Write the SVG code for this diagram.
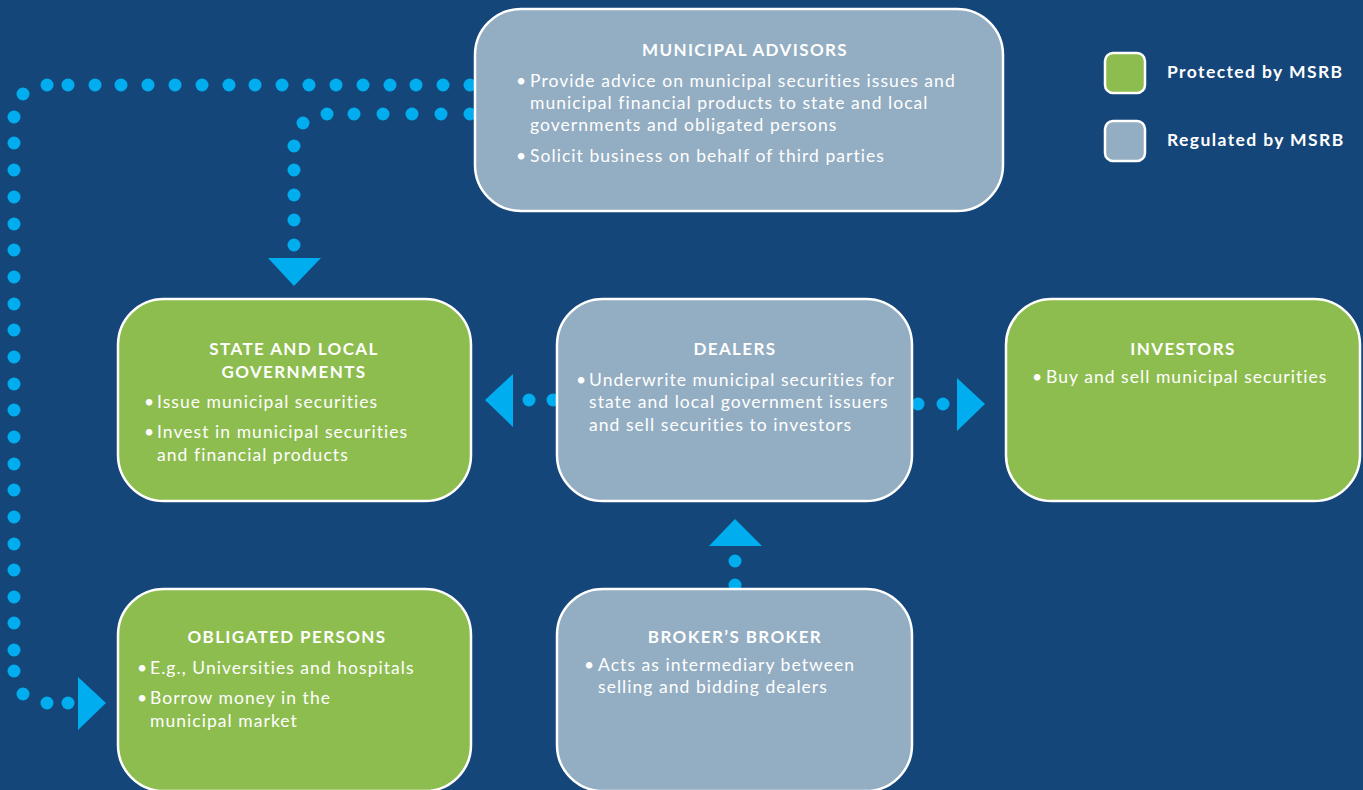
<svg xmlns="http://www.w3.org/2000/svg" width="1363" height="790" viewBox="0 0 1363 790">
  <style>
    .bg { fill: #15467a; }
    .box { stroke: #ffffff; stroke-width: 2.5; }
    .protected { fill: #8dbd4f; }
    .regulated { fill: #93adc2; }
    .title { font-family: Lato, "Open Sans", sans-serif; font-weight: 700; font-size: 17px; letter-spacing: 1.4px; fill: #ffffff; text-anchor: middle; font-variant-ligatures: none; }
    .body { font-family: Lato, "Open Sans", sans-serif; font-size: 17.5px; letter-spacing: 1.05px; fill: #ffffff; font-variant-ligatures: none; }
    .legend { font-family: Lato, "Open Sans", sans-serif; font-weight: 700; font-size: 17.5px; letter-spacing: 1.4px; fill: #ffffff; font-variant-ligatures: none; }
    .dot { fill: #00aeef; }
    .head { fill: #00aeef; }
  </style>

  <rect class="bg" x="0" y="0" width="1363" height="790"/>

  <!-- dotted connectors (drawn first so the boxes sit on top) -->
  <g id="connectors">
    <!-- advisors to obligated persons: long loop round the left edge -->
    <g id="advisors-to-obligated">
      <circle class="dot" cx="470" cy="85" r="6.5"/>
      <circle class="dot" cx="443" cy="85" r="6.5"/>
      <circle class="dot" cx="416" cy="85" r="6.5"/>
      <circle class="dot" cx="390" cy="85" r="6.5"/>
      <circle class="dot" cx="363" cy="85" r="6.5"/>
      <circle class="dot" cx="336" cy="85" r="6.5"/>
      <circle class="dot" cx="309" cy="85" r="6.5"/>
      <circle class="dot" cx="282" cy="85" r="6.5"/>
      <circle class="dot" cx="255" cy="85" r="6.5"/>
      <circle class="dot" cx="229" cy="85" r="6.5"/>
      <circle class="dot" cx="202" cy="85" r="6.5"/>
      <circle class="dot" cx="175" cy="85" r="6.5"/>
      <circle class="dot" cx="148" cy="85" r="6.5"/>
      <circle class="dot" cx="121" cy="85" r="6.5"/>
      <circle class="dot" cx="95" cy="85" r="6.5"/>
      <circle class="dot" cx="68" cy="85" r="6.5"/>
      <circle class="dot" cx="47" cy="85" r="6.5"/>
      <circle class="dot" cx="23" cy="94" r="6.5"/>
      <circle class="dot" cx="14" cy="117" r="6.5"/>
      <circle class="dot" cx="14" cy="143" r="6.5"/>
      <circle class="dot" cx="14" cy="170" r="6.5"/>
      <circle class="dot" cx="14" cy="197" r="6.5"/>
      <circle class="dot" cx="14" cy="224" r="6.5"/>
      <circle class="dot" cx="14" cy="250" r="6.5"/>
      <circle class="dot" cx="14" cy="277" r="6.5"/>
      <circle class="dot" cx="14" cy="304" r="6.5"/>
      <circle class="dot" cx="14" cy="330" r="6.5"/>
      <circle class="dot" cx="14" cy="357" r="6.5"/>
      <circle class="dot" cx="14" cy="384" r="6.5"/>
      <circle class="dot" cx="14" cy="410" r="6.5"/>
      <circle class="dot" cx="14" cy="437" r="6.5"/>
      <circle class="dot" cx="14" cy="464" r="6.5"/>
      <circle class="dot" cx="14" cy="490" r="6.5"/>
      <circle class="dot" cx="14" cy="517" r="6.5"/>
      <circle class="dot" cx="14" cy="544" r="6.5"/>
      <circle class="dot" cx="14" cy="570" r="6.5"/>
      <circle class="dot" cx="14" cy="597" r="6.5"/>
      <circle class="dot" cx="14" cy="623" r="6.5"/>
      <circle class="dot" cx="14" cy="650" r="6.5"/>
      <circle class="dot" cx="14" cy="671" r="6.5"/>
      <circle class="dot" cx="23" cy="694" r="6.5"/>
      <circle class="dot" cx="47" cy="703" r="6.5"/>
      <circle class="dot" cx="68" cy="703" r="6.5"/>
      <polygon class="head" points="78,677 106,703 78,730"/>
    </g>
    <!-- advisors to state and local governments -->
    <g id="advisors-to-governments">
      <circle class="dot" cx="470" cy="114" r="6.5"/>
      <circle class="dot" cx="441" cy="114" r="6.5"/>
      <circle class="dot" cx="412" cy="114" r="6.5"/>
      <circle class="dot" cx="383" cy="114" r="6.5"/>
      <circle class="dot" cx="354" cy="114" r="6.5"/>
      <circle class="dot" cx="327" cy="114" r="6.5"/>
      <circle class="dot" cx="303" cy="123" r="6.5"/>
      <circle class="dot" cx="294" cy="146" r="6.5"/>
      <circle class="dot" cx="294" cy="170" r="6.5"/>
      <circle class="dot" cx="294" cy="195" r="6.5"/>
      <circle class="dot" cx="294" cy="220" r="6.5"/>
      <circle class="dot" cx="294" cy="245" r="6.5"/>
      <polygon class="head" points="268,258 321,258 294,286"/>
    </g>
    <!-- dealers to state and local governments -->
    <g id="dealers-to-governments">
      <circle class="dot" cx="553" cy="400" r="6.5"/>
      <circle class="dot" cx="529" cy="400" r="6.5"/>
      <polygon class="head" points="513,374 513,427 485,400"/>
    </g>
    <!-- dealers to investors -->
    <g id="dealers-to-investors">
      <circle class="dot" cx="918" cy="404" r="6.5"/>
      <circle class="dot" cx="943" cy="404" r="6.5"/>
      <polygon class="head" points="957,378 957,431 985,404"/>
    </g>
    <!-- broker's broker to dealers -->
    <g id="broker-to-dealers">
      <circle class="dot" cx="735" cy="585" r="6.5"/>
      <circle class="dot" cx="735" cy="561" r="6.5"/>
      <polygon class="head" points="709,546 762,546 735,519"/>
    </g>
  </g>

  <g id="municipal-advisors">
    <rect class="box regulated" x="475" y="9" width="528" height="202" rx="46"/>
    <text class="title" x="745" y="56">MUNICIPAL ADVISORS</text>
    <text class="body" x="516" y="87">•</text>
    <text class="body" x="530" y="87">Provide advice on municipal securities issues and</text>
    <text class="body" x="530" y="109">municipal financial products to state and local</text>
    <text class="body" x="530" y="131">governments and obligated persons</text>
    <text class="body" x="516" y="162">•</text>
    <text class="body" x="530" y="162">Solicit business on behalf of third parties</text>
  </g>

  <g id="state-and-local-governments">
    <rect class="box protected" x="118" y="299" width="353" height="202" rx="46"/>
    <text class="title" x="294" y="355">STATE AND LOCAL</text>
    <text class="title" x="294" y="378">GOVERNMENTS</text>
    <text class="body" x="144" y="408">•</text>
    <text class="body" x="157" y="408">Issue municipal securities</text>
    <text class="body" x="144" y="438">•</text>
    <text class="body" x="157" y="438">Invest in municipal securities</text>
    <text class="body" x="157" y="461">and financial products</text>
  </g>

  <g id="dealers">
    <rect class="box regulated" x="557" y="299" width="355" height="202" rx="46"/>
    <text class="title" x="735" y="355">DEALERS</text>
    <text class="body" x="576" y="386">•</text>
    <text class="body" x="589" y="386">Underwrite municipal securities for</text>
    <text class="body" x="589" y="408">state and local government issuers</text>
    <text class="body" x="589" y="431">and sell securities to investors</text>
  </g>

  <g id="investors">
    <rect class="box protected" x="1006" y="299" width="354" height="202" rx="46"/>
    <text class="title" x="1183" y="355">INVESTORS</text>
    <text class="body" x="1032" y="383">•</text>
    <text class="body" x="1046" y="383">Buy and sell municipal securities</text>
  </g>

  <g id="obligated-persons">
    <rect class="box protected" x="118" y="589" width="353" height="202" rx="46"/>
    <text class="title" x="287" y="643">OBLIGATED PERSONS</text>
    <text class="body" x="137" y="674">•</text>
    <text class="body" x="150" y="674">E.g., Universities and hospitals</text>
    <text class="body" x="137" y="704">•</text>
    <text class="body" x="150" y="704">Borrow money in the</text>
    <text class="body" x="150" y="727">municipal market</text>
  </g>

  <g id="brokers-broker">
    <rect class="box regulated" x="557" y="589" width="355" height="202" rx="46"/>
    <text class="title" x="735" y="643">BROKER’S BROKER</text>
    <text class="body" x="584" y="671">•</text>
    <text class="body" x="598" y="671">Acts as intermediary between</text>
    <text class="body" x="598" y="693">selling and bidding dealers</text>
  </g>

  <g id="legend">
    <rect class="box protected" x="1105" y="53" width="40" height="40" rx="8"/>
    <text class="legend" x="1167" y="78">Protected by MSRB</text>
    <rect class="box regulated" x="1105" y="121" width="40" height="40" rx="8"/>
    <text class="legend" x="1167" y="146">Regulated by MSRB</text>
  </g>
</svg>
